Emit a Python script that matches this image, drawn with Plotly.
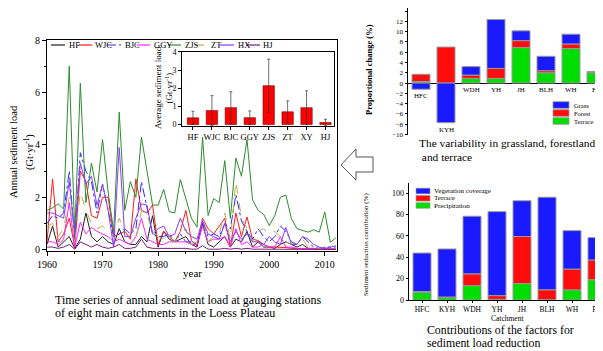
import plotly.graph_objects as go

# The page body has an 8px margin, so the figure is sized to fill the rest of the window.
OFF = 8
W, H = 603 - OFF, 351 - OFF
SERIF = "Liberation Serif"

# ---------------- data ----------------
years = list(range(1960, 2013))

HF = [0.2, 0.9, 0.1, 0.3, 0.5, 0.05, 0.4, 1.4, 0.5, 0.3,
      0.5, 0.3, 0.2, 0.8, 0.3, 0.2, 0.2, 0.5, 0.3, 1.3,
      0.1, 0.7, 0.4, 0.3, 0.4, 0.5, 0.2, 0.1, 1.0, 0.2,
      0.1, 0.3, 0.5, 0.1, 0.4, 0.3, 0.7, 0.1, 0.3, 0.1,
      0.1, 0.05, 0.2, 0.3, 0.2, 0.1, 0.2, 0.05, 0.05, 0.02,
      0.05, 0.02, 0.02]
WJC = [0.3, 2.7, 0.3, 0.6, 1.2, 0.1, 3.0, 2.6, 1.3, 1.2,
       2.0, 2.0, 0.5, 0.6, 0.7, 0.4, 2.7, 1.5, 1.4, 1.7,
       0.2, 0.7, 0.5, 0.3, 0.7, 1.5, 0.35, 0.15, 1.2, 0.8,
       0.6, 0.9, 1.2, 0.1, 1.4, 0.5, 1.25, 0.4, 0.35, 0.2,
       0.1, 0.1, 0.1, 0.08, 0.05, 0.05, 0.05, 0.03, 0.03, 0.02,
       0.05, 0.02, 0.03]
BJC = [1.0, 1.3, 1.2, 1.4, 3.0, 0.4, 3.7, 3.0, 2.6, 1.4,
       2.5, 1.5, 0.5, 0.6, 0.8, 0.6, 0.8, 2.6, 1.6, 0.6,
       0.5, 0.5, 0.6, 0.3, 0.6, 0.3, 0.3, 0.2, 1.0, 0.5,
       0.6, 0.5, 1.0, 0.8, 2.1, 1.1, 0.7, 0.4, 0.8, 0.5,
       0.3, 0.5, 0.9, 0.7, 0.3, 0.2, 0.5, 0.3, 0.1, 0.05,
       0.1, 0.1, 0.1]
GGY = [0.3, 0.3, 0.2, 0.4, 1.8, 0.1, 1.05, 0.6, 0.85, 0.7,
       0.6, 0.5, 0.3, 0.4, 0.3, 0.2, 0.5, 1.2, 0.4, 0.3,
       0.2, 0.2, 0.3, 0.3, 0.3, 0.3, 0.2, 0.2, 0.9, 0.3,
       0.4, 0.4, 0.5, 0.1, 0.8, 0.2, 0.3, 0.1, 0.1, 0.2,
       0.1, 0.1, 0.5, 0.1, 0.1, 0.05, 0.05, 0.05, 0.05, 0.02,
       0.05, 0.02, 0.02]
ZJS = [1.5, 1.6, 1.75, 1.55, 7.0, 0.6, 6.35, 1.8, 3.3, 2.2,
       4.2, 2.2, 0.7, 5.25, 1.5, 2.6, 2.0, 4.3, 3.0, 1.7,
       1.7, 2.3, 1.45, 1.4, 2.68, 1.9, 1.2, 0.86, 4.3, 1.3,
       1.95, 1.8, 3.4, 1.2, 3.5, 2.8, 4.2, 1.9, 1.5, 1.35,
       0.92, 1.3, 2.0, 2.08, 1.18, 0.8, 0.73, 0.67, 0.76, 0.67,
       1.44, 0.28, 0.45]
ZT = [0.9, 1.0, 0.5, 0.8, 2.0, 0.3, 2.2, 1.5, 1.0, 0.8,
      0.9, 0.7, 0.5, 1.2, 0.7, 0.5, 0.4, 1.5, 1.3, 0.7,
      0.5, 0.4, 0.4, 0.3, 0.6, 0.8, 0.2, 0.3, 1.2, 0.3,
      0.5, 0.6, 1.4, 0.4, 2.6, 1.2, 0.8, 0.3, 0.7, 0.8,
      0.6, 0.7, 0.5, 0.3, 0.2, 0.3, 0.4, 0.1, 0.05, 0.05,
      0.1, 0.05, 0.05]
HX = [1.4, 1.4, 1.3, 1.2, 2.6, 0.6, 3.3, 2.5, 2.8, 1.7,
      2.5, 1.5, 0.1, 3.9, 0.5, 0.5, 1.2, 1.75, 1.7, 0.6,
      0.8, 0.9, 0.5, 0.6, 1.2, 0.7, 0.5, 0.4, 1.1, 0.6,
      0.5, 0.4, 1.0, 0.3, 0.7, 0.4, 0.6, 0.3, 0.3, 0.2,
      0.5, 0.3, 0.2, 0.85, 0.2, 0.2, 0.5, 0.4, 0.2, 0.1,
      0.05, 0.1, 0.15]
HJ = [0.1, 0.1, 0.05, 0.1, 0.2, 0.02, 0.3, 0.2, 0.1, 0.2,
      0.1, 0.05, 0.1, 0.2, 0.05, 0.05, 0.1, 0.4, 0.1, 0.05,
      0.05, 0.05, 0.05, 0.05, 0.05, 0.05, 0.02, 0.02, 0.15, 0.02,
      0.02, 0.02, 0.05, 0.02, 0.05, 0.02, 0.05, 0.02, 0.02, 0.02,
      0.02, 0.02, 0.02, 0.02, 0.02, 0.02, 0.02, 0.02, 0.02, 0.01,
      0.01, 0.01, 0.01]

series_names = ["HF", "WJC", "BJC", "GGY", "ZJS", "ZT", "HX", "HJ"]
series_values = [HF, WJC, BJC, GGY, ZJS, ZT, HX, HJ]

inset_cats = ["HF", "WJC", "BJC", "GGY", "ZJS", "ZT", "XY", "HJ"]
inset_mean = [0.37, 0.77, 0.93, 0.38, 2.14, 0.70, 0.93, 0.11]
inset_err = [0.36, 0.82, 0.88, 0.37, 1.46, 0.60, 0.93, 0.18]

change_cats = ["HFC", "KYH", "WDH", "YH", "JH", "BLH", "WH", "FH"]
change_terrace = [0.3, 0.0, 0.9, 0.9, 6.9, 2.0, 6.7, 2.0]
change_forest = [1.4, 7.0, 0.65, 1.95, 1.35, 0.4, 0.9, 0.2]
change_grass = [-1.2, -7.7, 1.65, 9.5, 1.9, 2.8, 1.9, 0.0]

contrib_cats = ["HFC", "KYH", "WDH", "YH", "JH", "BLH", "WH", "FH"]
contrib_precip = [7.0, 2.8, 13.5, 0.6, 15.5, 0.3, 9.5, 19.0]
contrib_terrace = [1.0, 0.0, 11.0, 3.5, 44.0, 9.3, 19.5, 18.5]
contrib_veg = [36.0, 45.0, 54.0, 78.7, 33.5, 86.7, 36.0, 21.0]

# ---------------- styles ----------------
line_styles = {
    "HF": ("#222222", "solid"),
    "WJC": ("#ff1a1a", "solid"),
    "BJC": ("#2a2aff", "dashdot"),
    "GGY": ("#ff22ff", "solid"),
    "ZJS": ("#2e8b2e", "solid"),
    "ZT": ("#b5b04a", "dash"),
    "HX": ("#8a3cff", "solid"),
    "HJ": ("#7a1a7a", "solid"),
}
BLUE, RED, GREEN = "#1a1aff", "#ff0d0d", "#00dd00"
EDGE = "#9a9a9a"


def fx(p):
    """window pixel x -> paper fraction"""
    return (p - OFF) / W


def fy(p):
    """window pixel y -> paper fraction"""
    return 1 - (p - OFF) / H


def clamp(v):
    return min(1.0, max(0.0, v))


fig = go.Figure()

# main time series
for name, vals in zip(series_names, series_values):
    c, d = line_styles[name]
    fig.add_trace(go.Scatter(x=years, y=vals, mode="lines", name=name,
                             line=dict(color=c, width=1, dash=d),
                             xaxis="x", yaxis="y", showlegend=False))

# inset bars
fig.add_trace(go.Bar(x=inset_cats, y=inset_mean, width=0.6,
                     marker=dict(color="#ff0000", line=dict(color="#7a0000", width=0.6)),
                     error_y=dict(type="data", array=inset_err, color="#333333",
                                  thickness=0.7, width=1.5),
                     xaxis="x2", yaxis="y2", showlegend=False))

# proportional change
for name, vals, col in [("Terrace", change_terrace, GREEN),
                        ("Forest", change_forest, RED),
                        ("Grass", change_grass, BLUE)]:
    fig.add_trace(go.Bar(x=change_cats, y=vals, name=name, width=0.72,
                         marker=dict(color=col, line=dict(color=EDGE, width=1)),
                         xaxis="x3", yaxis="y3", showlegend=False))

# contribution
for name, vals, col in [("Precipitation", contrib_precip, GREEN),
                        ("Terrace", contrib_terrace, RED),
                        ("Vegetation coverage", contrib_veg, BLUE)]:
    fig.add_trace(go.Bar(x=contrib_cats, y=vals, name=name, width=0.72,
                         marker=dict(color=col, line=dict(color=EDGE, width=1)),
                         xaxis="x4", yaxis="y4", showlegend=False))

axis_common = dict(showgrid=False, zeroline=False, linecolor="black", linewidth=1,
                   tickcolor="black", ticks="outside")

shapes = []
annotations = []


def ann(text, x, y, size, xanchor="left", yanchor="middle", angle=0, **kw):
    annotations.append(dict(text=text, x=fx(x), y=fy(y), xref="paper", yref="paper",
                            showarrow=False, xanchor=xanchor, yanchor=yanchor,
                            textangle=angle, font=dict(family=SERIF, size=size, color="black"),
                            **kw))


# main legend (manual, compact)
legend_pos = {"HF": (51, 65, 67), "WJC": (79, 92, 93), "BJC": (107, 121, 123),
              "GGY": (137, 150, 152), "ZJS": (168, 181, 183), "ZT": (195, 208, 209),
              "HX": (219, 234, 236), "HJ": (246, 260, 261)}
for name in series_names:
    x0, x1, xt = legend_pos[name]
    c, d = line_styles[name]
    shapes.append(dict(type="line", xref="paper", yref="paper", x0=fx(x0), x1=fx(x1),
                       y0=fy(45), y1=fy(45), line=dict(color=c, width=1.2, dash=d)))
    ann(name, xt, 45, 8.5)

# top-right legend
for name, col, yc in [("Grass", BLUE, 105), ("Forest", RED, 113), ("Terrace", GREEN, 121)]:
    shapes.append(dict(type="rect", xref="paper", yref="paper", x0=fx(553), x1=fx(569),
                       y0=fy(yc - 3.3), y1=fy(yc + 3.3), fillcolor=col,
                       line=dict(color=EDGE, width=0.8)))
    ann(name, 572, yc, 6.5)

# bottom-right legend
for name, col, yc in [("Vegetation coverage", BLUE, 191), ("Terrace", RED, 198.3),
                      ("Precipitation", GREEN, 205.5)]:
    shapes.append(dict(type="rect", xref="paper", yref="paper", x0=fx(416), x1=fx(430),
                       y0=fy(yc - 2.8), y1=fy(yc + 2.8), fillcolor=col,
                       line=dict(color=EDGE, width=0.6)))
    ann(name, 432, yc, 7)

# category labels under proportional-change bars
for i, c in enumerate(change_cats):
    low = min(0, change_grass[i], change_forest[i], change_terrace[i])
    annotations.append(dict(text=c, x=c, y=low, xref="x3", yref="y3", showarrow=False,
                            xanchor="center", yanchor="top", yshift=-1,
                            font=dict(family=SERIF, size=7, color="black")))

# axis titles and captions
ann("Annual sediment load", 13, 152, 10.5, xanchor="center", angle=-90)
ann("(Gt·yr<sup>-1</sup>)", 29, 152, 10.5, xanchor="center", angle=-90)
ann("year", 192, 273, 11, xanchor="center")
ann("Average sediment load", 158, 88, 9, xanchor="center", angle=-90)
ann("(Gt·yr<sup>-1</sup>)", 168.5, 88, 9, xanchor="center", angle=-90)
ann("<b>Proportional change (%)</b>", 369, 70, 8.5, xanchor="center", angle=-90)
ann("Sediment reduction contribution (%)", 366, 244, 7, xanchor="center", angle=-90)
ann("Catchment", 507, 318, 7.5, xanchor="center")
ann("Time series of annual sediment load at gauging stations", 53, 300, 12)
ann("of eight main catchments in the Loess Plateau", 53, 312.5, 12)
ann("The variability in grassland, forestland", 417, 143, 11.4)
ann(" and terrace", 417, 157, 11.4)
ann("Contributions of the factors for", 425, 330, 11.8)
ann("sediment load reduction", 425, 342.5, 11.8)

# hollow arrow
pts = [(341, 165), (356, 149), (356, 157), (373, 157), (373, 172), (356, 172), (356, 180)]
path = "M " + " L ".join(f"{fx(a):.5f},{fy(b):.5f}" for a, b in pts) + " Z"
shapes.append(dict(type="path", xref="paper", yref="paper", path=path,
                   line=dict(color="#555555", width=1), fillcolor="white"))

# proportional-change axis: 0 at y=83 px, 5.14 px per unit; top clipped at window top
tr_top_px = OFF
tr_top_val = (83 - tr_top_px) / 5.14

fig.update_layout(
    width=W, height=H, margin=dict(l=0, r=0, t=0, b=0),
    paper_bgcolor="white", plot_bgcolor="white", template="none",
    barmode="relative", showlegend=False,
    font=dict(family=SERIF, color="black"),
    xaxis=dict(axis_common, domain=[clamp(fx(47)), clamp(fx(337))], anchor="y",
               range=[1960, 2012.2], tick0=1960, dtick=10, ticklen=4, mirror=True,
               minor=dict(dtick=5, ticklen=2, ticks="outside", tickcolor="black"),
               tickfont=dict(size=10)),
    yaxis=dict(axis_common, domain=[clamp(fy(251)), clamp(fy(40))], anchor="x",
               range=[-0.05, 8], dtick=2, ticklen=4, mirror=True,
               minor=dict(dtick=1, ticklen=2, ticks="outside", tickcolor="black"),
               tickfont=dict(size=10)),
    xaxis2=dict(axis_common, domain=[clamp(fx(182)), clamp(fx(334))], anchor="y2",
                type="category", range=[-0.58, 7.45], ticklen=3, mirror=True,
                tickfont=dict(size=8.5)),
    yaxis2=dict(axis_common, domain=[clamp(fy(126)), clamp(fy(51.5))], anchor="x2",
                range=[-0.08, 4.02], dtick=1, ticklen=3, mirror=True, tickfont=dict(size=8)),
    xaxis3=dict(showgrid=False, zeroline=False, showline=False, showticklabels=False,
                domain=[clamp(fx(408)), 1.0], anchor="y3", type="category",
                range=[-0.52, 7.28]),
    yaxis3=dict(axis_common, domain=[clamp(fy(134.5)), clamp(fy(tr_top_px))], anchor="x3",
                range=[-10, tr_top_val], tick0=0, dtick=2, ticklen=2.5,
                tickfont=dict(size=7), zeroline=True, zerolinecolor="black",
                zerolinewidth=1.3),
    xaxis4=dict(axis_common, domain=[clamp(fx(409)), 1.0], anchor="y4", type="category",
                range=[-0.52, 7.24], ticklen=2, tickfont=dict(size=7.5)),
    yaxis4=dict(axis_common, domain=[clamp(fy(300)), clamp(fy(182.6))], anchor="x4",
                range=[0, 110], dtick=20, ticklen=2.5, tickfont=dict(size=8)),
    shapes=shapes, annotations=annotations,
)

fig.write_html("out.html")
